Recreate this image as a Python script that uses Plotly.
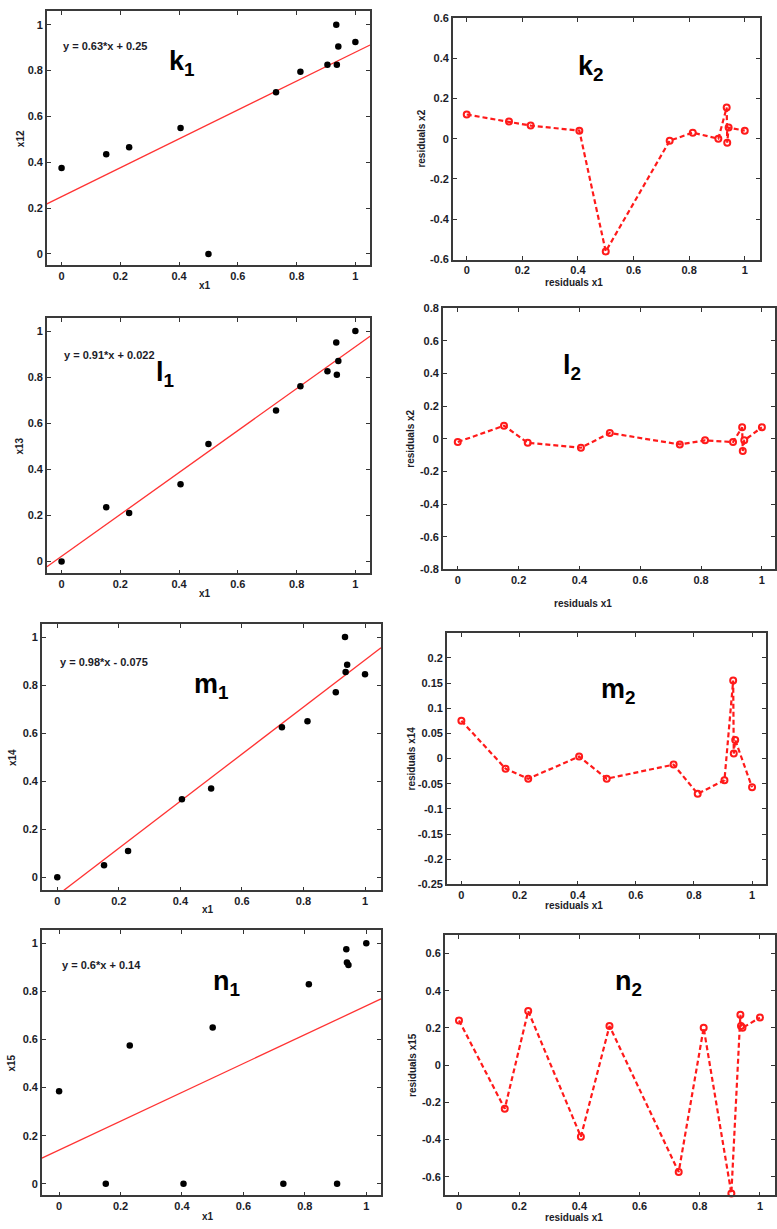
import plotly.graph_objects as go

W, H = 777, 1229

# ---------------- data ----------------
x1 = [0.0, 0.152, 0.23, 0.405, 0.5, 0.73, 0.813, 0.905, 0.935, 0.937, 0.942, 1.0]

x12 = [0.375, 0.435, 0.465, 0.55, 0.0, 0.705, 0.795, 0.825, 1.0, 0.825, 0.905, 0.925]
x13 = [0.0, 0.235, 0.21, 0.335, 0.51, 0.655, 0.76, 0.825, 0.95, 0.81, 0.87, 1.0]
x14 = [0.0, 0.05, 0.11, 0.325, 0.37, 0.625, 0.65, 0.77, 1.0, 0.855, 0.885, 0.845]
x15 = [0.385, 0.0, 0.575, 0.0, 0.65, 0.0, 0.83, 0.0, 0.975, 0.92, 0.91, 1.0]

res12 = [0.12, 0.085, 0.065, 0.04, -0.56, -0.01, 0.03, 0.0, 0.155, -0.02, 0.055, 0.04]
res13 = [-0.02, 0.08, -0.025, -0.055, 0.035, -0.035, -0.01, -0.02, 0.07, -0.075, -0.01, 0.07]
res14 = [0.075, -0.02, -0.04, 0.004, -0.04, -0.012, -0.07, -0.043, 0.155, 0.01, 0.037, -0.057]
res15 = [0.24, -0.235, 0.29, -0.385, 0.21, -0.575, 0.2, -0.69, 0.27, 0.21, 0.2, 0.255]

slopes = [0.63, 0.91, 0.98, 0.6]
intercepts = [0.25, 0.022, -0.075, 0.14]
equations = ["y = 0.63*x + 0.25", "y = 0.91*x + 0.022", "y = 0.98*x - 0.075", "y = 0.6*x + 0.14"]
left_ylabels = ["x12", "x13", "x14", "x15"]
right_ylabels = ["residuals x2", "residuals x2", "residuals x14", "residuals x15"]
letters = ["k", "l", "m", "n"]

fit_tick_vals = [0, 0.2, 0.4, 0.6, 0.8, 1]
fit_tick_text = ["0", "0.2", "0.4", "0.6", "0.8", "1"]
res_tick_sets = [
    ([-0.6, -0.4, -0.2, 0, 0.2, 0.4, 0.6], ["-0.6", "-0.4", "-0.2", "0", "0.2", "0.4", "0.6"]),
    ([-0.8, -0.6, -0.4, -0.2, 0, 0.2, 0.4, 0.6, 0.8], ["-0.8", "-0.6", "-0.4", "-0.2", "0", "0.2", "0.4", "0.6", "0.8"]),
    ([-0.25, -0.2, -0.15, -0.1, -0.05, 0, 0.05, 0.1, 0.15, 0.2],
     ["-0.25", "-0.2", "-0.15", "-0.1", "-0.05", "0", "0.05", "0.1", "0.15", "0.2"]),
    ([-0.6, -0.4, -0.2, 0, 0.2, 0.4, 0.6], ["-0.6", "-0.4", "-0.2", "0", "0.2", "0.4", "0.6"]),
]
ys_left = [x12, x13, x14, x15]
ys_right = [res12, res13, res14, res15]

# ---------------- layout geometry (pixels) ----------------
left_boxes = [
    ((47, 371, 5, 262), [-0.05, 1.05], [-0.05, 1.06]),
    ((47, 371, 315, 573), [-0.05, 1.05], [-0.052, 1.057]),
    ((42, 382, 624, 893), [-0.05, 1.052], [-0.054, 1.055]),
    ((42, 382, 933, 1201), [-0.056, 1.048], [-0.048, 1.056]),
]
right_boxes = [
    ((454, 762, 12, 256), [-0.05, 1.055], [-0.6, 0.6]),
    ((444, 777, 305, 569), [-0.049, 1.043], [-0.8, 0.8]),
    ((448, 768, 633, 887), [-0.05, 1.048], [-0.25, 0.25]),
    ((446, 777, 938, 1201), [-0.047, 1.05], [-0.7, 0.7]),
]
left_xlabel_y = [282, 593, 912, 1222]
left_ylabel_x = [20, 20, 12, 12]
right_xlabel_y = [279, 603, 908, 1223]
right_ylabel_x = [423, 412, 413, 413]
left_letter_pos = [(182, 58), (165, 372), (212, 687), (227, 987)]
right_letter_pos = [(593, 63), (573, 365), (620, 692), (630, 987)]
eq_pos = [(61, 40), (62, 352), (58, 662), (60, 968)]

FONT = "Liberation Sans, Arial, sans-serif"
TXT = "#1c1c28"
RED = "#ff1a1a"


def px(x):
    return x / W


def py(y):
    return 1 - y / H


fig = go.Figure()
annotations = []


def axis_common(rng, tv, tt, dom):
    return dict(
        domain=dom, range=rng, tickvals=tv, ticktext=tt,
        ticks="inside", ticklen=4, tickwidth=1.2, tickcolor="#333",
        showline=True, linecolor="#3a3a3a", linewidth=1.5, mirror="allticks",
        showgrid=False, zeroline=False,
        tickfont=dict(family=FONT, size=11, color=TXT, weight="bold"),
        fixedrange=True,
    )


def add_text(x, y, text, size, angle=0, xanchor="center"):
    annotations.append(dict(
        x=px(x), y=py(y), xref="paper", yref="paper", text=text, showarrow=False,
        textangle=angle, xanchor=xanchor, yanchor="middle",
        font=dict(family=FONT, size=size, color="#000" if size > 20 else TXT, weight="bold"),
    ))


ax = 0
for i in range(4):
    # ---- left: fit panel ----
    ax += 1
    (bx0, bx1, by0, by1), xr, yr = left_boxes[i]
    xs = "x" if ax == 1 else f"x{ax}"
    ysn = "y" if ax == 1 else f"y{ax}"
    fig.layout[("xaxis" if ax == 1 else f"xaxis{ax}")] = dict(
        anchor=ysn, **axis_common(xr, fit_tick_vals, fit_tick_text, [px(bx0), px(bx1)]))
    fig.layout[("yaxis" if ax == 1 else f"yaxis{ax}")] = dict(
        anchor=xs, **axis_common(yr, fit_tick_vals, fit_tick_text, [py(by1), py(by0)]))
    lx = [xr[0], xr[1]]
    ly = [slopes[i] * v + intercepts[i] for v in lx]
    fig.add_trace(go.Scatter(x=lx, y=ly, mode="lines", xaxis=xs, yaxis=ysn,
                             line=dict(color="#ff3333", width=1.3), hoverinfo="skip"))
    fig.add_trace(go.Scatter(x=x1, y=ys_left[i], mode="markers", xaxis=xs, yaxis=ysn,
                             marker=dict(color="#000", size=6.5, symbol="circle")))
    add_text((bx0 + bx1) / 2 - 3, left_xlabel_y[i], "x1", 10)
    add_text(left_ylabel_x[i], (by0 + by1) / 2, left_ylabels[i], 10, angle=-90)
    add_text(left_letter_pos[i][0], left_letter_pos[i][1], f"{letters[i]}<sub>1</sub>", 27)
    add_text(eq_pos[i][0], eq_pos[i][1], equations[i], 11, xanchor="left")

    # ---- right: residual panel ----
    ax += 1
    (bx0, bx1, by0, by1), xr, yr = right_boxes[i]
    xs = f"x{ax}"
    ysn = f"y{ax}"
    tv, tt = res_tick_sets[i]
    fig.layout[f"xaxis{ax}"] = dict(
        anchor=ysn, **axis_common(xr, fit_tick_vals, fit_tick_text, [px(bx0), px(bx1)]))
    fig.layout[f"yaxis{ax}"] = dict(
        anchor=xs, **axis_common(yr, tv, tt, [py(by1), py(by0)]))
    fig.add_trace(go.Scatter(x=x1, y=ys_right[i], mode="lines+markers", xaxis=xs, yaxis=ysn,
                             line=dict(color=RED, width=2.2, dash="5px,3px"),
                             marker=dict(color=RED, size=6, symbol="circle-open",
                                         line=dict(color=RED, width=2)),
                             cliponaxis=False))
    add_text(575 if i != 1 else 585, right_xlabel_y[i], "residuals x1", 10)
    add_text(right_ylabel_x[i], (by0 + by1) / 2, right_ylabels[i], 10, angle=-90)
    add_text(right_letter_pos[i][0], right_letter_pos[i][1], f"{letters[i]}<sub>2</sub>", 27)

fig.update_layout(
    width=W, height=H, margin=dict(l=0, r=0, t=0, b=0),
    paper_bgcolor="white", plot_bgcolor="white", showlegend=False,
    annotations=annotations,
)

fig.write_html("out.html")
